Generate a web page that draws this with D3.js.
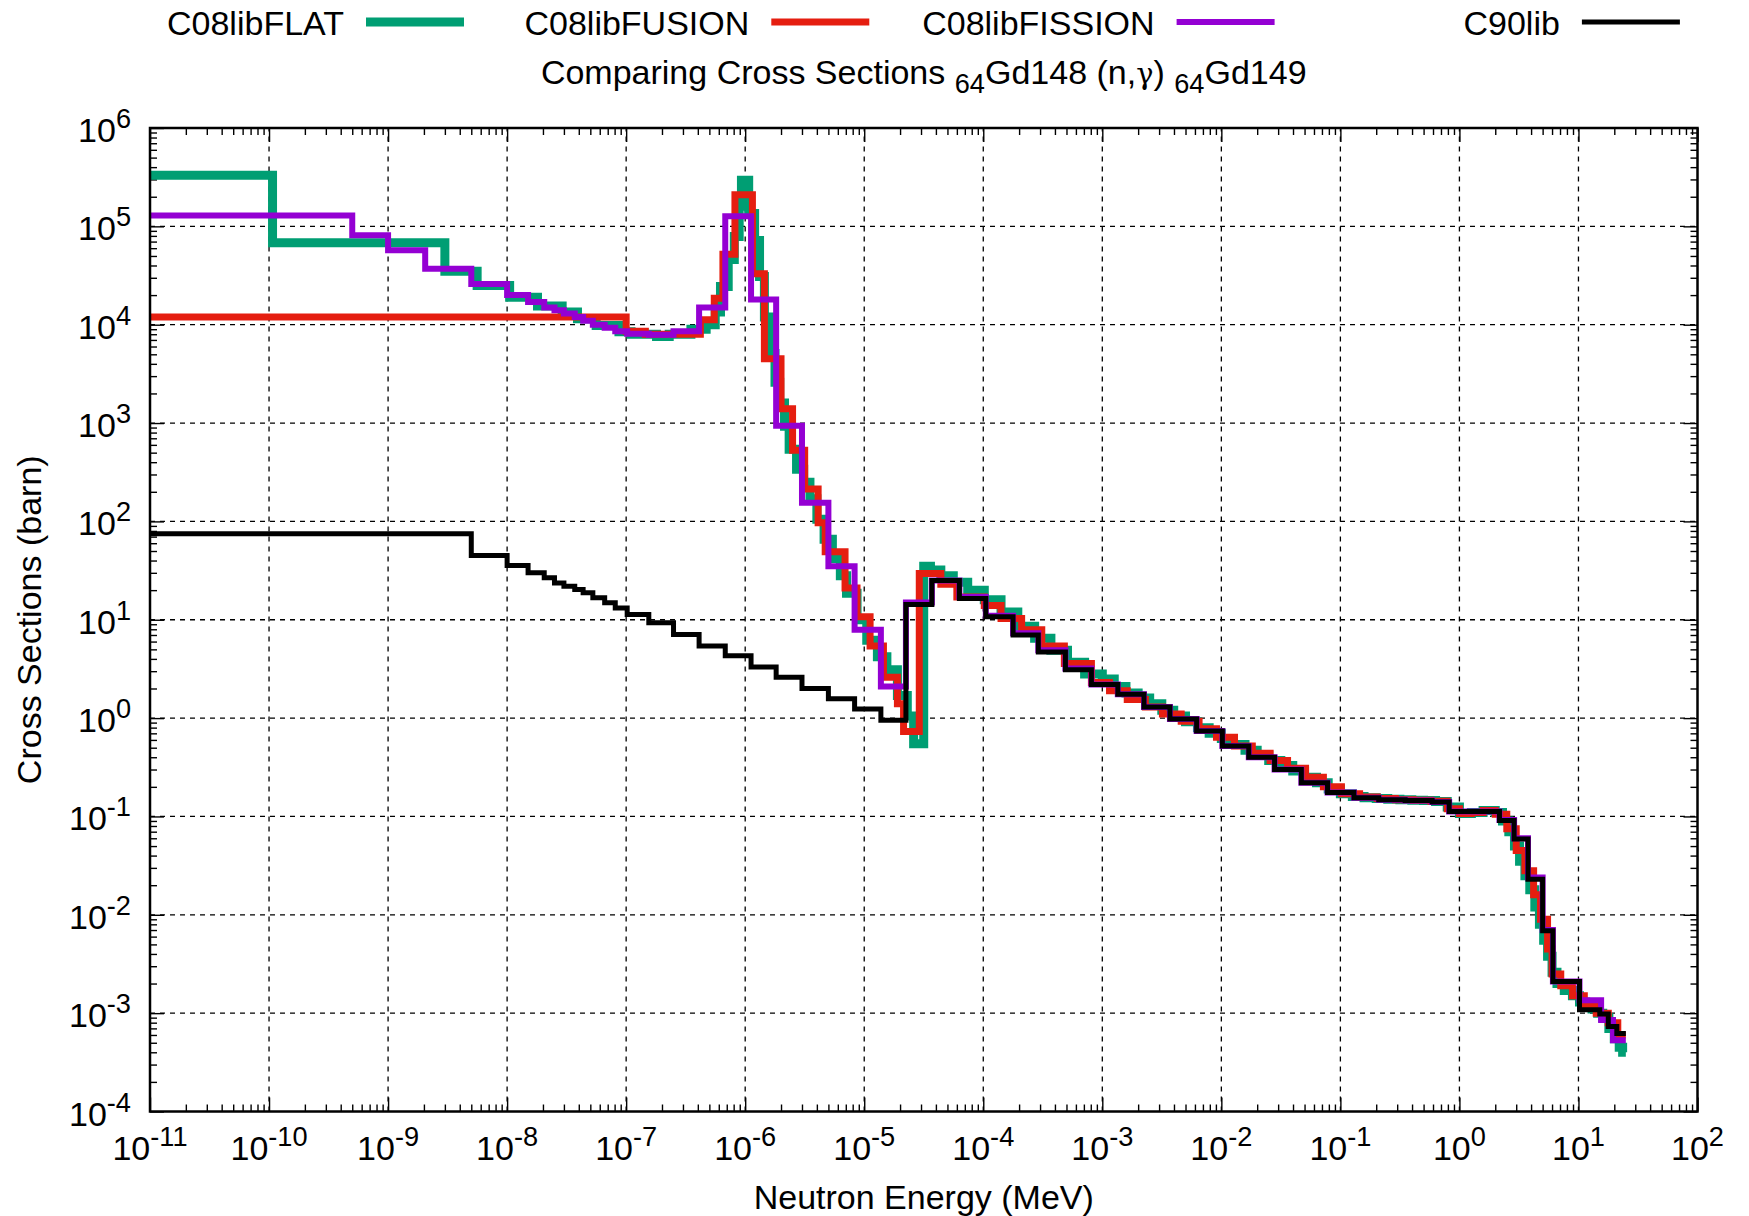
<!DOCTYPE html>
<html>
<head>
<meta charset="utf-8">
<script src="https://cdn.jsdelivr.net/npm/d3@7/dist/d3.min.js"></script>
<style>
  body { margin: 0; background: #fff; }
  text { font-family: "Liberation Sans", Arial, sans-serif; fill: #000; }
</style>
</head>
<body>
<svg id="chart" width="1749" height="1216"></svg>
<script>

/* Group lower bounds (MeV) and group cross sections (barn) */
let flatE = [1e-11, 1.07e-10, 3.0e-9, 5.6e-9, 1.05e-8, 1.8e-8, 2.9e-8, 3.9e-8, 5.6e-8, 8.7e-8,
  1.1e-7, 1.8e-7, 2.3e-7, 3.5e-7, 4.7e-7, 5.6e-7, 6.2e-7, 7.2e-7, 8.1e-7, 8.9e-7,
  9.3e-7, 1.07e-6, 1.2e-6, 1.32e-6, 1.45e-6, 1.6e-6, 1.78e-6, 1.95e-6, 2.14e-6, 2.34e-6,
  2.7e-6, 3.1e-6, 3.5e-6, 4.0e-6, 4.6e-6, 5.4e-6, 6.3e-6, 7.1e-6, 8.7e-6, 1.05e-5,
  1.29e-5, 1.55e-5, 1.9e-5, 2.3e-5, 2.6e-5, 3.16e-5, 3.6e-5, 4.4e-5, 5.6e-5, 7.4e-5,
  1.02e-4, 1.41e-4, 1.95e-4, 2.7e-4, 3.7e-4, 5.1e-4, 7.1e-4, 1.0e-3, 1.26e-3, 1.58e-3,
  2.0e-3, 2.5e-3, 3.16e-3, 3.98e-3, 5.0e-3, 6.3e-3, 7.9e-3, 1e-2, 1.26e-2, 1.58e-2,
  2.0e-2, 2.5e-2, 3.16e-2, 3.98e-2, 5.0e-2, 6.3e-2, 7.9e-2, 0.1, 0.126, 0.158,
  0.2, 0.25, 0.316, 0.398, 0.5, 0.63, 0.79, 1.0, 1.26, 1.58,
  2.0, 2.3, 2.6, 2.9, 3.2, 3.55, 3.9, 4.3, 4.7, 5.1,
  5.5, 6.0, 6.6, 7.6, 8.9, 10.2, 11.5, 13, 14.5, 16,
  18, 20, 22, 23.5];
let flatXS = [3.3e5, 6.8e4, 3.5e4, 2.5e4, 1.9e4, 1.55e4, 1.35e4, 1.15e4, 9.8e3, 8.5e3,
  8.0e3, 7.6e3, 8.0e3, 9.0e3, 1.0e4, 1.35e4, 2.45e4, 4.6e4, 7.9e4, 1.6e5,
  2.95e5, 1.35e5, 7.2e4, 3.1e4, 1.2e4, 5.1e3, 2.6e3, 1.6e3, 930, 540,
  340, 250, 170, 105, 66, 42, 28, 18.6, 10, 6.2,
  4.2, 3.1, 1.7, 1.05, 0.55, 35, 32, 28, 24, 20,
  16, 12, 8.6, 6.5, 4.9, 3.7, 2.8, 2.5, 2.1, 1.8,
  1.6, 1.4, 1.2, 1.05, 0.92, 0.8, 0.7, 0.62, 0.54, 0.47,
  0.42, 0.37, 0.33, 0.29, 0.25, 0.22, 0.19, 0.17, 0.16, 0.155,
  0.152, 0.15, 0.148, 0.146, 0.145, 0.142, 0.125, 0.107, 0.11, 0.115,
  0.11, 0.09, 0.07, 0.05, 0.035, 0.025, 0.018, 0.012, 0.008, 0.0055,
  0.0038, 0.0026, 0.002, 0.0017, 0.0015, 0.0013, 0.0012, 0.0011, 0.001, 9e-4,
  7e-4, 5.5e-4, 4.5e-4, 4e-4];

let fusionE = [1e-11, 1e-7, 1.45e-7, 4.2e-7, 5.5e-7, 6.5e-7, 8.2e-7, 1.15e-6, 1.45e-6, 2.0e-6,
  2.5e-6, 3.16e-6, 4.1e-6, 4.7e-6, 6.9e-6, 8.7e-6, 1.12e-5, 1.45e-5, 1.9e-5, 2.14e-5,
  2.9e-5, 4.4e-5, 6.0e-5, 1.02e-4, 1.41e-4, 2.1e-4, 3.1e-4, 4.8e-4, 8.1e-4, 1.15e-3,
  1.62e-3, 2.3e-3, 3.2e-3, 4.6e-3, 6.5e-3, 9.1e-3, 1.29e-2, 1.82e-2, 2.57e-2, 3.6e-2,
  5.1e-2, 7.2e-2, 0.102, 0.145, 0.204, 0.29, 0.41, 0.575, 0.79, 1.0,
  1.26, 1.58, 2.0, 2.5, 3.0, 3.55, 4.2, 4.8, 5.5, 6.0,
  7.1, 8.9, 11.2, 14.1, 17.8, 21.4];
let fusionXS = [1.2e4, 8.6e3, 8.0e3, 1.12e4, 1.86e4, 5.2e4, 2.1e5, 3.3e4, 4.5e3, 1.4e3,
  530, 213, 97, 49, 21, 10.7, 5.4, 2.6, 1.4, 0.73,
  29.5, 23, 17, 14, 10.3, 7.9, 5.4, 3.6, 2.3, 1.9,
  1.55, 1.3, 1.1, 0.93, 0.78, 0.64, 0.52, 0.44, 0.37, 0.31,
  0.25, 0.2, 0.17, 0.158, 0.152, 0.148, 0.146, 0.143, 0.12, 0.107,
  0.11, 0.115, 0.105, 0.075, 0.045, 0.028, 0.016, 0.009, 0.0045, 0.0025,
  0.0019, 0.0015, 0.0012, 0.001, 8e-4, 6e-4];

let fissionE = [1e-11, 5e-10, 1e-9, 2.05e-9, 5e-9, 1e-8, 1.5e-8, 2.05e-8, 2.5e-8, 3e-8,
  3.7e-8, 4.35e-8, 5.25e-8, 6.6e-8, 8.1e-8, 1.02e-7, 1.55e-7, 2.5e-7, 4.1e-7, 6.8e-7,
  1.12e-6, 1.82e-6, 3.0e-6, 5.0e-6, 8.3e-6, 1.38e-5, 2.24e-5, 3.7e-5, 6.3e-5, 1.05e-4,
  1.78e-4, 2.9e-4, 4.9e-4, 8.1e-4, 1.35e-3, 2.24e-3, 3.7e-3, 6.2e-3, 1.02e-2, 1.7e-2,
  2.8e-2, 4.7e-2, 7.8e-2, 0.13, 0.21, 0.35, 0.59, 0.82, 2.17, 2.88,
  3.77, 5.0, 6.1, 10.2, 15.5, 19.5];
let fissionXS = [1.29e5, 8.1e4, 5.7e4, 3.7e4, 2.6e4, 2.0e4, 1.7e4, 1.5e4, 1.4e4, 1.3e4,
  1.2e4, 1.1e4, 1.0e4, 9.3e3, 8.6e3, 8.1e3, 7.9e3, 8.6e3, 1.5e4, 1.27e5,
  1.8e4, 940, 155, 35, 7.9, 2.1, 15, 25, 17, 11,
  7.3, 4.9, 3.2, 2.2, 1.75, 1.3, 0.98, 0.74, 0.52, 0.40,
  0.30, 0.22, 0.175, 0.155, 0.148, 0.145, 0.14, 0.112, 0.092, 0.06,
  0.024, 0.007, 0.0021, 0.00135, 8.5e-4, 5.3e-4];

let c90E = [1e-11, 5e-9, 1e-8, 1.5e-8, 2.05e-8, 2.5e-8, 3e-8, 3.7e-8, 4.35e-8, 5.25e-8,
  6.6e-8, 8.1e-8, 1.02e-7, 1.55e-7, 2.5e-7, 4.1e-7, 6.8e-7, 1.12e-6, 1.82e-6, 3.0e-6,
  5.0e-6, 8.3e-6, 1.38e-5, 2.24e-5, 3.7e-5, 6.3e-5, 1.05e-4, 1.78e-4, 2.9e-4, 4.9e-4,
  8.1e-4, 1.35e-3, 2.24e-3, 3.7e-3, 6.2e-3, 1.02e-2, 1.7e-2, 2.8e-2, 4.7e-2, 7.8e-2,
  0.13, 0.21, 0.35, 0.59, 0.82, 2.17, 2.88, 3.77, 5.0, 6.1,
  10.2, 15.1, 17.8, 21];
let c90XS = [75, 45, 35.6, 30, 26.7, 23.7, 21.9, 20.3, 18.8, 16.7,
  14.9, 13.2, 11.3, 9.3, 7.1, 5.4, 4.3, 3.3, 2.6, 2.0,
  1.57, 1.24, 0.95, 14.3, 25, 16.4, 10.7, 7.0, 4.7, 3.1,
  2.2, 1.75, 1.3, 0.98, 0.74, 0.52, 0.40, 0.30, 0.22, 0.175,
  0.155, 0.148, 0.145, 0.14, 0.112, 0.091, 0.059, 0.023, 0.0069, 0.0021,
  0.00108, 9.8e-4, 7.3e-4, 6.2e-4];

// upper bound of the last group, shared by all libraries
let lastEnergy = 25;

let seriesNames = ["C08libFLAT", "C08libFUSION", "C08libFISSION", "C90lib"];
let seriesColors = ["#009e73", "#e51e10", "#9400d3", "#000000"];
let seriesWidths = [9, 7, 6, 5];

let xTickExps = d3.range(-11, 3);   // 10^-11 .. 10^2
let yTickExps = d3.range(-4, 7);    // 10^-4 .. 10^6

/* Dimensions */
let width = 1749;
let height = 1216;
let margin = {top: 128, bottom: 104.5, left: 150, right: 51.5};
let tickFont = 34;
let labelFont = 34;

let svg = d3.select("#chart");

let xScale = d3.scaleLog()
               .domain([Math.pow(10, xTickExps[0]), Math.pow(10, xTickExps[xTickExps.length - 1])])
               .range([margin.left, width - margin.right]);
let yScale = d3.scaleLog()
               .domain([Math.pow(10, yTickExps[0]), Math.pow(10, yTickExps[yTickExps.length - 1])])
               .range([height - margin.bottom, margin.top]);

let x0 = margin.left, x1 = width - margin.right;
let y0 = height - margin.bottom, y1 = margin.top;

// 2..9 sub-decade values for the minor ticks
function minorValues(exps) {
  let vals = [];
  exps.slice(0, -1).forEach(e => {
    for (let k = 2; k < 10; k++) vals.push(k * Math.pow(10, e));
  });
  return vals;
}
let xMajor = xTickExps.map(e => Math.pow(10, e));
let yMajor = yTickExps.map(e => Math.pow(10, e));
let xMinor = minorValues(xTickExps);
let yMinor = minorValues(yTickExps);

/* Grid */
let grid = svg.append("g")
              .attr("stroke", "#000")
              .attr("stroke-width", 1.3)
              .attr("stroke-dasharray", "5,5");
grid.selectAll(".gx")
    .data(xMajor.slice(1, -1))
    .join("line")
      .attr("x1", d => xScale(d)).attr("x2", d => xScale(d))
      .attr("y1", y0).attr("y2", y1);
grid.selectAll(".gy")
    .data(yMajor.slice(1, -1))
    .join("line")
      .attr("x1", x0).attr("x2", x1)
      .attr("y1", d => yScale(d)).attr("y2", d => yScale(d));

/* Inward ticks on all four sides */
function drawTicks(axis, values, size, transform) {
  svg.append("g")
       .attr("transform", transform)
     .call(axis.tickValues(values).tickSize(size).tickSizeOuter(0).tickFormat(""))
     .call(g => g.select(".domain").remove())
     .call(g => g.selectAll("line").attr("stroke", "#000").attr("stroke-width", 1.4));
}
drawTicks(d3.axisBottom(xScale), xMajor, -14, `translate(0, ${y0})`);
drawTicks(d3.axisBottom(xScale), xMinor, -7, `translate(0, ${y0})`);
drawTicks(d3.axisTop(xScale), xMajor, -14, `translate(0, ${y1})`);
drawTicks(d3.axisTop(xScale), xMinor, -7, `translate(0, ${y1})`);
drawTicks(d3.axisLeft(yScale), yMajor, -14, `translate(${x0}, 0)`);
drawTicks(d3.axisLeft(yScale), yMinor, -7, `translate(${x0}, 0)`);
drawTicks(d3.axisRight(yScale), yMajor, -14, `translate(${x1}, 0)`);
drawTicks(d3.axisRight(yScale), yMinor, -7, `translate(${x1}, 0)`);

/* Tick labels 10^n */
function powerLabel(sel, exp) {
  sel.append("tspan").text("10");
  sel.append("tspan")
       .attr("dy", -14)
       .attr("font-size", tickFont * 0.8)
       .text(exp);
}
svg.append("g")
   .selectAll("text")
   .data(xTickExps)
   .join("text")
     .attr("x", d => xScale(Math.pow(10, d)))
     .attr("y", 1160)
     .attr("text-anchor", "middle")
     .attr("font-size", tickFont)
     .each(function(d) { powerLabel(d3.select(this), d); });
svg.append("g")
   .selectAll("text")
   .data(yTickExps)
   .join("text")
     .attr("x", 131)
     .attr("y", d => yScale(Math.pow(10, d)) + 14)
     .attr("text-anchor", "end")
     .attr("font-size", tickFont)
     .each(function(d) { powerLabel(d3.select(this), d); });

/* Data lines */
let line = d3.line()
             .x(d => xScale(d[0]))
             .y(d => yScale(d[1]))
             .curve(d3.curveStepAfter);

function stepPoints(es, xs) {
  let pts = es.map((e, i) => [e, xs[i]]);
  pts.push([lastEnergy, xs[xs.length - 1]]);
  return pts;
}
let series = [
  stepPoints(flatE, flatXS),
  stepPoints(fusionE, fusionXS),
  stepPoints(fissionE, fissionXS),
  stepPoints(c90E, c90XS)
];

svg.append("clipPath").attr("id", "plotArea")
   .append("rect")
     .attr("x", x0).attr("y", y1)
     .attr("width", x1 - x0).attr("height", y0 - y1);

svg.append("g")
     .attr("clip-path", "url(#plotArea)")
   .selectAll("path")
   .data(series)
   .join("path")
     .attr("d", d => line(d))
     .attr("fill", "none")
     .attr("stroke", (d, i) => seriesColors[i])
     .attr("stroke-width", (d, i) => seriesWidths[i])
     .attr("stroke-linejoin", "miter");

/* Border */
svg.append("rect")
     .attr("x", x0).attr("y", y1)
     .attr("width", x1 - x0).attr("height", y0 - y1)
     .attr("fill", "none")
     .attr("stroke", "#000")
     .attr("stroke-width", 2.5);

/* Legend across the top */
let legend = svg.append("g");
let legendX = 366, legendStep = 405.3, sampleLen = 98;
seriesNames.forEach((name, i) => {
  let lx = legendX + i * legendStep;
  legend.append("text")
          .attr("x", lx - 22)
          .attr("y", 35)
          .attr("text-anchor", "end")
          .attr("font-size", labelFont)
          .text(name);
  legend.append("line")
          .attr("x1", lx).attr("x2", lx + sampleLen)
          .attr("y1", 22).attr("y2", 22)
          .attr("stroke", seriesColors[i])
          .attr("stroke-width", seriesWidths[i]);
});

/* Title with nuclide subscripts */
let title = svg.append("text")
               .attr("x", (x0 + x1) / 2)
               .attr("y", 84)
               .attr("text-anchor", "middle")
               .attr("font-size", labelFont);
title.append("tspan").text("Comparing Cross Sections ");
title.append("tspan").attr("dy", 9).attr("font-size", labelFont * 0.8).text("64");
title.append("tspan").attr("dy", -9).text("Gd148 (n,");
title.append("tspan").attr("font-family", "'DejaVu Serif', serif").attr("font-size", labelFont * 0.85).text("γ");
title.append("tspan").text(") ");
title.append("tspan").attr("dy", 9).attr("font-size", labelFont * 0.8).text("64");
title.append("tspan").attr("dy", -9).text("Gd149");

/* Axis titles */
svg.append("text")
     .attr("x", (x0 + x1) / 2)
     .attr("y", 1209)
     .attr("text-anchor", "middle")
     .attr("font-size", labelFont)
     .text("Neutron Energy (MeV)");
svg.append("text")
     .attr("transform", `translate(41, ${(y0 + y1) / 2}) rotate(-90)`)
     .attr("text-anchor", "middle")
     .attr("font-size", labelFont)
     .text("Cross Sections (barn)");

</script>
</body>
</html>
